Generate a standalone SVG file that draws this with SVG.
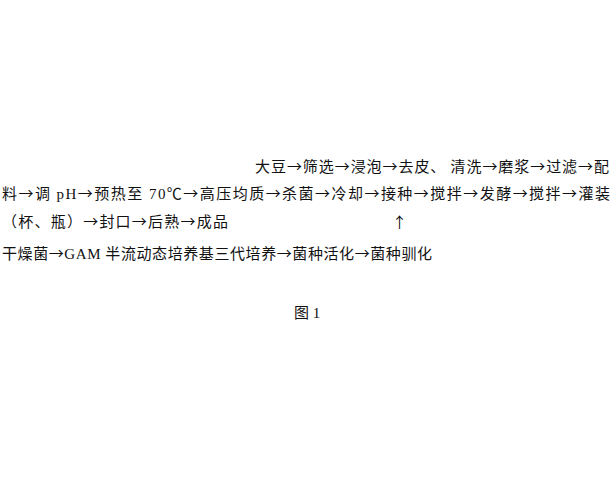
<svg xmlns="http://www.w3.org/2000/svg" width="615" height="483" viewBox="0 0 615 483">
<style>
.t{font-family:"Noto Sans CJK SC","Liberation Serif",serif;font-size:15px;fill:#111;}
.l{font-family:"Liberation Serif","Noto Sans CJK SC",serif;}
</style>
<rect width="615" height="483" fill="#fff"/>
<g id="line1"><text class="t" x="255" y="172" textLength="354" lengthAdjust="spacing">大豆→筛选→浸泡→去皮、 清洗→磨浆→过滤→配</text></g>
<g id="line2"><text class="t" x="2" y="199" textLength="608" lengthAdjust="spacing">料→调<tspan class="l"> pH</tspan>→预热至<tspan class="l"> 70</tspan>℃→高压均质→杀菌→冷却→接种→搅拌→发酵→搅拌→灌装</text></g>
<g id="line3"><text class="t" x="2" y="227" textLength="226" lengthAdjust="spacing">（杯、瓶）→封口→后熟→成品</text></g>
<g id="line4"><text class="t" x="2" y="259" textLength="430" lengthAdjust="spacing">干燥菌→<tspan class="l">GAM </tspan>半流动态培养基三代培养→菌种活化→菌种驯化</text></g>
<g id="connectors"><text class="t" x="392" y="228">↑</text></g>
<g id="caption"><text class="t" x="294" y="318">图<tspan class="l"> 1</tspan></text></g>
</svg>
